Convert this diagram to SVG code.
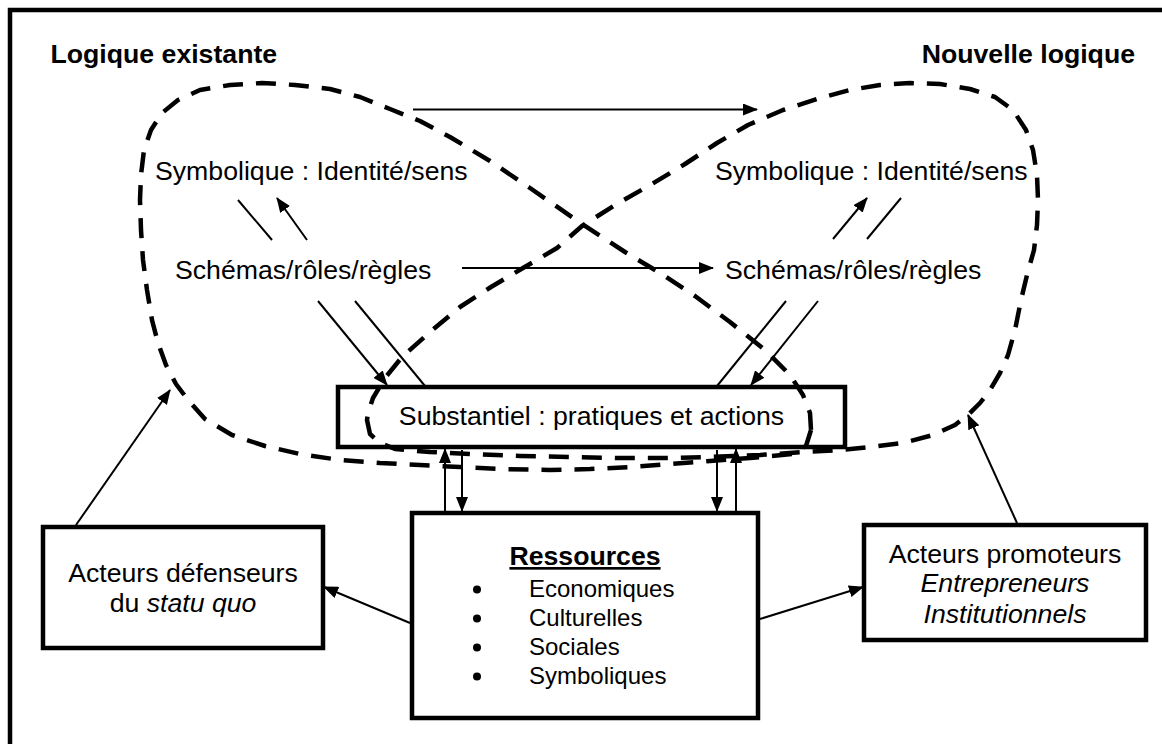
<svg xmlns="http://www.w3.org/2000/svg" width="1162" height="744" viewBox="0 0 1162 744">
  <defs>
    <style>
      .t { font-family: "Liberation Sans", Arial, sans-serif; font-size: 26.67px; fill: #000; }
      .b { font-weight: bold; }
      .i { font-style: italic; }
      .s { font-size: 24px; }
      .box { fill: #fff; stroke: #000; stroke-width: 4.5; }
      .loop { fill: none; stroke: #000; stroke-width: 4.5; stroke-dasharray: 20 13; stroke-linejoin: round; }
      .ln { fill: none; stroke: #000; stroke-width: 2; }
      .ar { fill: none; stroke: #000; stroke-width: 2; marker-end: url(#ah); }
    </style>
    <marker id="ah" markerUnits="userSpaceOnUse" markerWidth="15" markerHeight="12" refX="14" refY="6" orient="auto">
      <path d="M0,0 L15,6 L0,12 Z" fill="#000"/>
    </marker>
  </defs>

  <rect x="0" y="0" width="1162" height="744" fill="#fff"/>
  <rect id="frame" x="10" y="10" width="1200" height="800" fill="none" stroke="#000" stroke-width="4.5"/>

  <g id="title-existante"><text class="t b" x="50.5" y="63">Logique existante</text></g>
  <g id="title-nouvelle"><text class="t b" x="1135" y="63" text-anchor="end">Nouvelle logique</text></g>

  <g id="sym-left"><text class="t" x="155" y="180">Symbolique : Identité/sens</text></g>
  <g id="sym-right"><text class="t" x="715" y="180">Symbolique : Identité/sens</text></g>
  <g id="sch-left"><text class="t" x="175" y="279">Schémas/rôles/règles</text></g>
  <g id="sch-right"><text class="t" x="725" y="279">Schémas/rôles/règles</text></g>

  <g id="substantiel">
    <rect class="box" x="338" y="387" width="507" height="60"/>
    <text class="t" x="591.5" y="425" text-anchor="middle">Substantiel : pratiques et actions</text>
  </g>

  <g id="logique-existante-loop">
    <path class="loop" d="M811,430 L806,446 L792,454 L750,458 L710,461 L670,464 L630,467 L590,469 L550,470 L500,469 L460,467 L420,465 L380,463 L340,460 L300,454 L265,446 L232,435 L205,419 L188,400 L176,384 L166,365 L158,343 L152,320 L147,290 L143,260 L141,230 L140,200 L141,175 L144,150 L151,130 L162,113 L178,100 L200,90 L230,85 L262,83 L295,85 L330,89 L360,97 L390,109 L420,121 L450,137 L490,161 L530,188 L582,224 L625,252 L660,273 L695,296 L730,322 L765,350 L790,375 L803,395 L810,413 Z"/>
  </g>
  <g id="nouvelle-logique-loop">
    <path class="loop" d="M367,420 L370,434 L380,443 L395,449 L430,452 L470,454 L520,456 L570,457 L620,458 L670,458 L710,457 L760,455 L805,452 L840,450 L870,447 L903,443 L933,435 L955,425 L968,415 L980,403 L990,390 L1000,373 L1008,355 L1015,330 L1021,300 L1027,275 L1034,250 L1037,225 L1038,200 L1037,175 L1033,150 L1026,130 L1013,110 L995,97 L970,89 L940,84 L910,83 L880,85 L850,90 L817,99 L783,110 L748,125 L717,143 L685,164 L652,184 L615,205 L582,226 L557,248 L523,268 L491,287 L460,307 L430,332 L402,357 L385,378 L373,398 L368,413 Z"/>
  </g>

  <g id="defenseurs">
    <rect class="box" x="43" y="527" width="280" height="121"/>
    <text class="t" x="183" y="582" text-anchor="middle">Acteurs défenseurs</text>
    <text class="t" x="183" y="612" text-anchor="middle">du <tspan class="i">statu quo</tspan></text>
  </g>

  <g id="ressources">
    <rect class="box" x="412" y="513" width="346" height="205"/>
    <text class="t b" x="585" y="565" text-anchor="middle" text-decoration="underline">Ressources</text>
    <circle cx="477" cy="589.5" r="4"/>
    <circle cx="477" cy="618.5" r="4"/>
    <circle cx="477" cy="647.5" r="4"/>
    <circle cx="477" cy="676.5" r="4"/>
    <text class="t s" x="529" y="597">Economiques</text>
    <text class="t s" x="529" y="626">Culturelles</text>
    <text class="t s" x="529" y="655">Sociales</text>
    <text class="t s" x="529" y="684">Symboliques</text>
  </g>

  <g id="promoteurs">
    <rect class="box" x="864" y="525" width="282" height="115"/>
    <text class="t" x="1005" y="563" text-anchor="middle">Acteurs promoteurs</text>
    <text class="t i" x="1005" y="592" text-anchor="middle">Entrepreneurs</text>
    <text class="t i" x="1005" y="623" text-anchor="middle">Institutionnels</text>
  </g>

  <g id="connectors">
    <line class="ar" x1="413" y1="109.5" x2="757" y2="109.5"/>
    <line class="ar" x1="462" y1="268" x2="713" y2="268"/>
    <line class="ln" x1="238" y1="200" x2="272" y2="240"/>
    <line class="ar" x1="307" y1="240" x2="277" y2="198"/>
    <line class="ar" x1="833" y1="239" x2="867" y2="198"/>
    <line class="ln" x1="867" y1="239" x2="901" y2="198"/>
    <line class="ar" x1="318" y1="301" x2="387" y2="385"/>
    <line class="ln" x1="355" y1="301" x2="425" y2="386"/>
    <line class="ln" x1="786" y1="301" x2="717" y2="386"/>
    <line class="ar" x1="818" y1="301" x2="751" y2="385"/>
    <line class="ar" x1="445" y1="511" x2="445" y2="449"/>
    <line class="ar" x1="462" y1="450" x2="462" y2="511"/>
    <line class="ar" x1="717" y1="450" x2="717" y2="511"/>
    <line class="ar" x1="736" y1="511" x2="736" y2="449"/>
    <line class="ar" x1="410" y1="623" x2="324" y2="587"/>
    <line class="ar" x1="760" y1="619" x2="863" y2="587"/>
    <line class="ar" x1="76" y1="525" x2="170" y2="390"/>
    <line class="ar" x1="1017" y1="523" x2="968" y2="415"/>
  </g>
</svg>
